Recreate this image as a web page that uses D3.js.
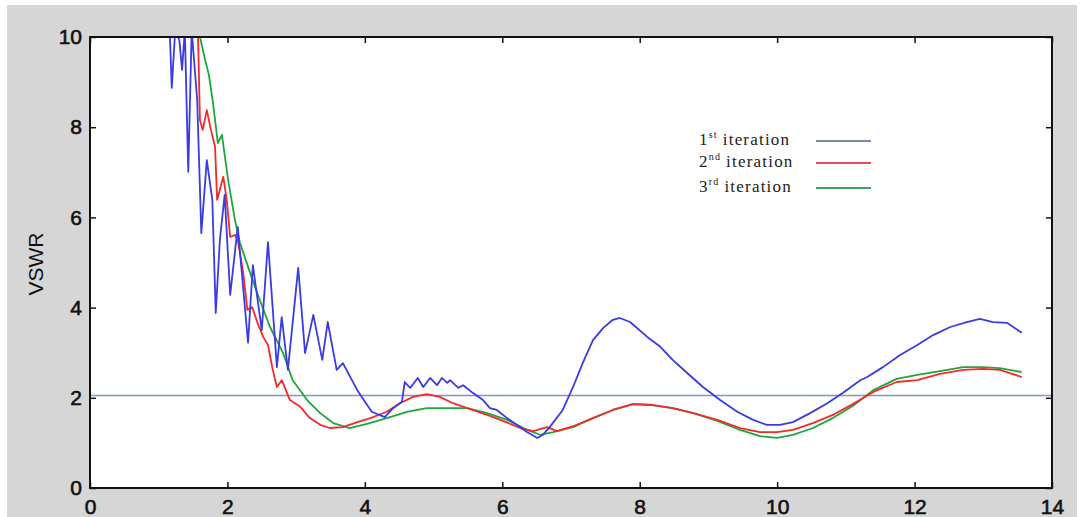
<!DOCTYPE html>
<html>
<head>
<meta charset="utf-8">
<script src="https://cdn.jsdelivr.net/npm/d3@7"></script>
<style>
  body { margin: 0; background: #fff; }
  .tick text { font-family: Arial, "Liberation Sans", sans-serif; font-size: 21px; fill: #111; stroke: #111; stroke-width: 0.6px; }
  .tick line { stroke: #111; stroke-width: 1.5px; }
</style>
</head>
<body>
<svg id="chart" width="1082" height="517"></svg>
<script>
// frequency (GHz) vs VSWR
var iter1 = [
  [1.16,10.15],[1.19,8.87],[1.24,10.15],[1.30,9.93],[1.34,9.27],[1.38,10.15],[1.43,7.01],[1.48,10.15],
  [1.56,8.6],[1.62,5.65],[1.70,7.27],[1.78,6.39],[1.83,3.88],[1.89,5.5],[1.96,6.5],[2.04,4.28],
  [2.15,5.79],[2.30,3.22],[2.37,4.94],[2.50,3.5],[2.59,5.45],[2.72,2.68],[2.79,3.79],[2.88,2.62],
  [3.03,4.88],[3.13,2.99],[3.25,3.84],[3.38,2.84],[3.46,3.68],[3.59,2.62],[3.68,2.77],[3.89,2.17],
  [4.10,1.69],[4.29,1.57],[4.41,1.77],[4.54,1.91],[4.58,2.35],[4.66,2.22],[4.77,2.44],[4.85,2.24],
  [4.95,2.44],[5.05,2.28],[5.12,2.44],[5.20,2.33],[5.24,2.39],[5.36,2.22],[5.43,2.28],[5.57,2.11],
  [5.72,1.95],[5.82,1.77],[5.92,1.73],[6.07,1.55],[6.21,1.40],[6.36,1.24],[6.51,1.11],[6.59,1.18],
  [6.69,1.35],[6.88,1.73],[7.03,2.24],[7.17,2.77],[7.32,3.28],[7.47,3.55],[7.60,3.72],[7.71,3.77],
  [7.86,3.68],[8.11,3.35],[8.30,3.13],[8.48,2.84],[8.69,2.55],[8.92,2.24],[9.17,1.95],[9.42,1.69],
  [9.65,1.51],[9.85,1.40],[10.04,1.40],[10.23,1.46],[10.48,1.66],[10.73,1.88],[10.96,2.11],[11.21,2.39],
  [11.31,2.46],[11.54,2.68],[11.79,2.95],[12.04,3.17],[12.27,3.39],[12.52,3.57],[12.76,3.68],[12.95,3.75],
  [13.14,3.68],[13.35,3.66],[13.56,3.44]
];
var iter2 = [
  [1.57,10.15],[1.60,8.16],[1.64,7.94],[1.70,8.38],[1.76,7.94],[1.82,7.56],[1.85,6.39],[1.94,6.90],
  [1.99,6.39],[2.04,5.57],[2.11,5.61],[2.15,5.50],[2.23,4.77],[2.29,3.95],[2.36,4.01],[2.45,3.61],
  [2.52,3.35],[2.59,3.17],[2.66,2.62],[2.72,2.24],[2.79,2.39],[2.91,1.95],[3.06,1.80],[3.20,1.55],
  [3.35,1.40],[3.49,1.33],[3.68,1.35],[3.89,1.46],[4.08,1.55],[4.32,1.69],[4.51,1.88],[4.70,2.02],
  [4.90,2.08],[5.09,2.02],[5.28,1.88],[5.49,1.77],[5.78,1.62],[6.01,1.49],[6.26,1.33],[6.45,1.26],
  [6.65,1.35],[6.80,1.26],[7.03,1.37],[7.32,1.55],[7.61,1.73],[7.90,1.86],[8.19,1.84],[8.48,1.77],
  [8.78,1.66],[9.13,1.51],[9.46,1.33],[9.75,1.24],[10.00,1.24],[10.23,1.29],[10.52,1.44],[10.81,1.62],
  [11.10,1.86],[11.40,2.13],[11.74,2.35],[12.04,2.39],[12.37,2.53],[12.71,2.62],[13.00,2.64],[13.24,2.62],
  [13.56,2.46]
];
var iter3 = [
  [1.59,10.15],[1.60,10.0],[1.67,9.53],[1.73,9.16],[1.79,8.54],[1.86,7.65],[1.92,7.83],[2.01,6.83],
  [2.11,5.94],[2.18,5.45],[2.33,4.77],[2.47,4.17],[2.62,3.57],[2.81,2.99],[2.95,2.39],[3.16,1.95],
  [3.35,1.66],[3.54,1.44],[3.78,1.33],[4.03,1.42],[4.32,1.55],[4.61,1.69],[4.90,1.77],[5.20,1.77],
  [5.49,1.77],[5.78,1.66],[6.07,1.51],[6.36,1.29],[6.55,1.18],[6.74,1.24],[7.03,1.35],[7.32,1.55],
  [7.61,1.73],[7.90,1.86],[8.19,1.84],[8.48,1.77],[8.78,1.66],[9.13,1.49],[9.46,1.29],[9.75,1.15],
  [10.00,1.11],[10.23,1.18],[10.52,1.33],[10.81,1.55],[11.10,1.82],[11.40,2.17],[11.74,2.42],[12.04,2.51],
  [12.37,2.59],[12.71,2.68],[13.00,2.68],[13.24,2.66],[13.56,2.57]
];
var refLevel = 2.05;
var xTicks = [0, 2, 4, 6, 8, 10, 12, 14];
var yTicks = [0, 2, 4, 6, 8, 10];
var legendNames = [["1", "st"], ["2", "nd"], ["3", "rd"]];

var svg = d3.select("#chart");
var pLeft = 90, pRight = 1052, pTop = 37, pBottom = 488;

// grey figure background
svg.append("rect").attr("x", 7).attr("y", 5).attr("width", 1070).attr("height", 512).attr("fill", "#d6d6d6");
svg.append("rect").attr("x", pLeft).attr("y", pTop).attr("width", pRight - pLeft).attr("height", pBottom - pTop).attr("fill", "#fff");

var x = d3.scaleLinear().domain([0, 14]).range([pLeft, pRight]);
var y = d3.scaleLinear().domain([0, 10]).range([pBottom, pTop]);

svg.append("clipPath").attr("id", "plotclip")
  .append("rect").attr("x", pLeft).attr("y", pTop).attr("width", pRight - pLeft).attr("height", pBottom - pTop);

var plot = svg.append("g").attr("clip-path", "url(#plotclip)");

// reference line
plot.append("line")
  .attr("x1", x(0)).attr("x2", x(14))
  .attr("y1", y(refLevel)).attr("y2", y(refLevel))
  .attr("stroke", "#7e98c2").attr("stroke-width", 1.6);

var line = d3.line().x(d => x(d[0])).y(d => y(d[1]));

var series = [
  {data: iter3, color: "#1fa53c"},
  {data: iter2, color: "#f42a2a"},
  {data: iter1, color: "#3a3ae6"}
];
series.forEach(s => {
  plot.append("path")
    .attr("d", line(s.data))
    .attr("fill", "none")
    .attr("stroke", s.color)
    .attr("stroke-width", 1.8)
    .attr("stroke-linejoin", "round");
});

// axes, ticks pointing inward
svg.append("g").attr("transform", "translate(0," + pBottom + ")")
  .call(d3.axisBottom(x).tickValues(xTicks).tickSize(-6).tickSizeOuter(0).tickPadding(11))
  .call(g => g.select(".domain").remove());
svg.append("g").attr("transform", "translate(0," + pTop + ")")
  .call(d3.axisTop(x).tickValues(xTicks).tickSize(-6).tickSizeOuter(0).tickFormat(""))
  .call(g => g.select(".domain").remove());
svg.append("g").attr("transform", "translate(" + pLeft + ",0)")
  .call(d3.axisLeft(y).tickValues(yTicks).tickSize(-6).tickSizeOuter(0).tickPadding(8))
  .call(g => g.select(".domain").remove());
svg.append("g").attr("transform", "translate(" + pRight + ",0)")
  .call(d3.axisRight(y).tickValues(yTicks).tickSize(-6).tickSizeOuter(0).tickFormat(""))
  .call(g => g.select(".domain").remove());

svg.append("rect").attr("x", pLeft).attr("y", pTop).attr("width", pRight - pLeft).attr("height", pBottom - pTop)
  .attr("fill", "none").attr("stroke", "#111").attr("stroke-width", 2);

svg.append("text")
  .attr("transform", "translate(43,264) rotate(-90)")
  .attr("text-anchor", "middle")
  .attr("font-family", "Arial, 'Liberation Sans', sans-serif")
  .attr("font-size", 21)
  .attr("fill", "#111")
  .text("VSWR");

// legend
var legendColors = ["#7a88a6", "#e8485c", "#3aa06c"];
var legendY = [141, 163, 188];
legendNames.forEach((n, i) => {
  var t = svg.append("text")
    .attr("x", 699).attr("y", legendY[i] + 4)
    .attr("font-family", "'Liberation Serif', 'Times New Roman', serif")
    .attr("font-size", 17)
    .attr("letter-spacing", 1.2)
    .attr("fill", "#222");
  t.append("tspan").text(n[0]);
  t.append("tspan").attr("font-size", 10).attr("dy", -7).text(n[1]);
  t.append("tspan").attr("dy", 7).attr("dx", 5).text("iteration");
  svg.append("line")
    .attr("x1", 816).attr("x2", 871)
    .attr("y1", legendY[i]).attr("y2", legendY[i])
    .attr("stroke", legendColors[i]).attr("stroke-width", 1.8);
});
</script>
</body>
</html>
